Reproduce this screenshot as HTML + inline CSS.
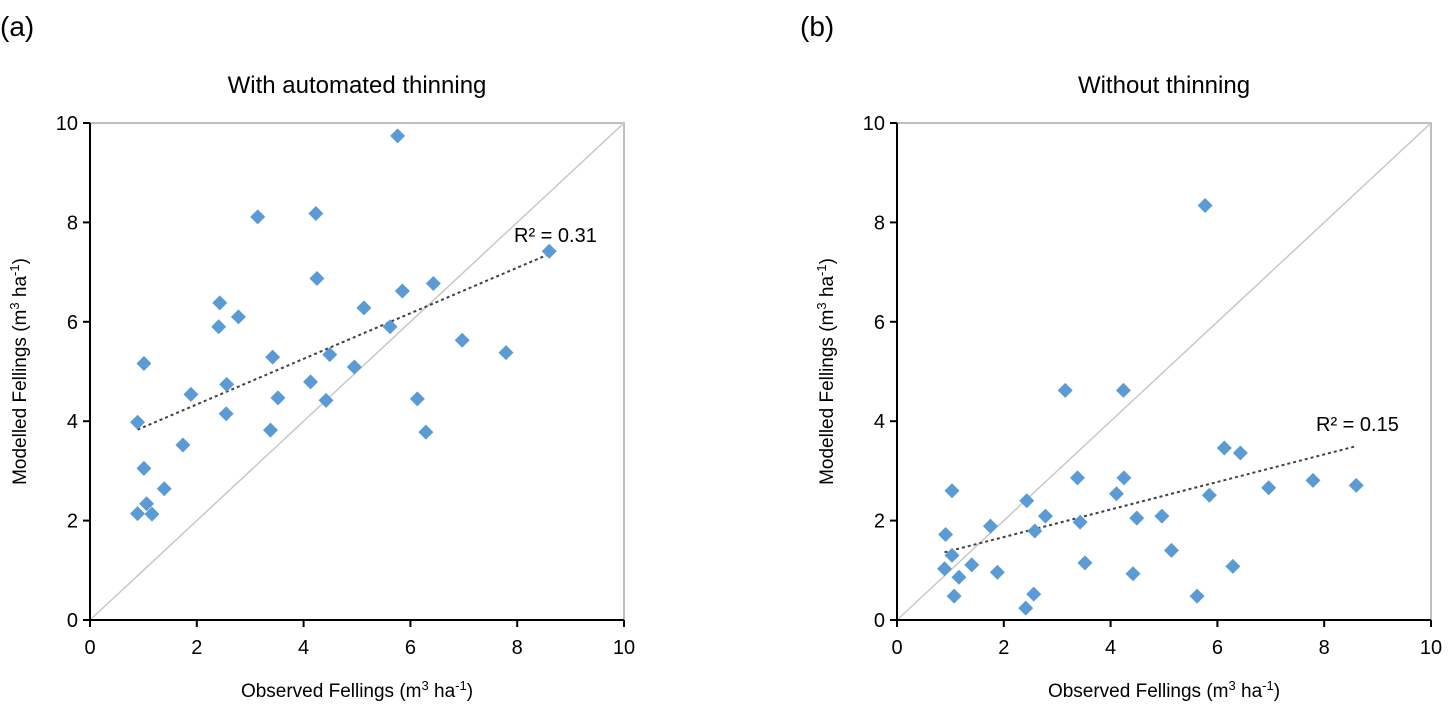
<!DOCTYPE html>
<html><head><meta charset="utf-8">
<style>
html,body{margin:0;padding:0;background:#fff;}
svg{display:block;font-family:"Liberation Sans",sans-serif;}
</style></head>
<body>
<svg id="chart" width="1448" height="706" viewBox="0 0 1448 706" xmlns="http://www.w3.org/2000/svg"></svg>
<script>
const ticks = [0,2,4,6,8,10];
const tickLabels = ["0","2","4","6","8","10"];
const obsA = [0.89,1.01,0.89,1.06,1.16,1.01,1.39,1.74,1.89,2.43,2.41,2.78,2.55,2.56,3.14,3.42,3.38,3.52,4.23,4.25,4.13,4.49,4.42,4.95,5.13,5.62,5.76,5.85,6.43,6.13,6.29,6.97,7.79,8.60];
const modA = [3.98,5.16,2.14,2.34,2.13,3.05,2.64,3.52,4.54,6.38,5.90,6.10,4.15,4.74,8.11,5.29,3.82,4.47,8.18,6.87,4.79,5.34,4.42,5.09,6.28,5.90,9.74,6.62,6.77,4.45,3.78,5.63,5.38,7.42];
const obsB = [0.91,1.03,1.03,0.89,1.07,1.16,1.40,1.75,1.88,2.43,2.41,2.56,2.58,2.78,3.15,3.38,3.43,3.52,4.24,4.25,4.11,4.49,4.42,4.96,5.14,5.62,5.77,5.85,6.13,6.43,6.29,6.96,7.79,8.60];
const modB = [1.72,2.60,1.30,1.03,0.48,0.86,1.11,1.89,0.96,2.40,0.24,0.52,1.79,2.09,4.62,2.86,1.97,1.15,4.62,2.86,2.54,2.05,0.93,2.09,1.40,0.48,8.34,2.51,3.46,3.36,1.08,2.66,2.81,2.71];
const r2Labels = ["R² = 0.31","R² = 0.15"];
const titles = ["With automated thinning","Without thinning"];
const panelLabels = ["(a)","(b)"];

const NS="http://www.w3.org/2000/svg";
const svg=document.getElementById('chart');
function mk(tag,attrs,parent){const e=document.createElementNS(NS,tag);for(const k in attrs)e.setAttribute(k,attrs[k]);(parent||svg).appendChild(e);return e;}

function panel(idx,left,xs,ys,labelX,r2pos){
  const right=left+534, top=123, bottom=620;
  const sx=v=>left+(v/10)*(right-left);
  const sy=v=>bottom-(v/10)*(bottom-top);
  const g=mk('g',{});
  
  
  let t=mk('text',{x:labelX,y:36,'font-size':28,fill:'#000'},g);t.textContent=panelLabels[idx];
  
  t=mk('text',{x:(left+right)/2,y:93,'font-size':24,'text-anchor':'middle',fill:'#000'},g);t.textContent=titles[idx];
  
  let e=mk('path',{d:`M${left} ${top}H${right}V${bottom}`,stroke:'#bfbfbf','stroke-width':2,fill:'none'},g);
  
  e=mk('line',{x1:sx(0),y1:sy(0),x2:sx(10),y2:sy(10),stroke:'#c8c8c8','stroke-width':1.5},g);
  
  e=mk('path',{d:`M${left} ${top}V${bottom}H${right}`,stroke:'#000','stroke-width':2,fill:'none'},g);
  
  ticks.forEach((v,i)=>{
    mk('line',{x1:sx(v),y1:bottom,x2:sx(v),y2:bottom+7,stroke:'#000','stroke-width':2},g);
    mk('line',{x1:left-7,y1:sy(v),x2:left,y2:sy(v),stroke:'#000','stroke-width':2},g);
    let a=mk('text',{x:sx(v),y:bottom+34,'font-size':20,'text-anchor':'middle',fill:'#000'},g);a.textContent=tickLabels[i];
    
    a=mk('text',{x:left-12,y:sy(v)+7,'font-size':20,'text-anchor':'end',fill:'#000'},g);a.textContent=tickLabels[i];
    
  });
  t=mk('text',{x:(left+right)/2,y:697,'font-size':19,'text-anchor':'middle',fill:'#000'},g);
  t.innerHTML='Observed Fellings (m<tspan font-size="13" dy="-7">3</tspan><tspan dy="7"> ha</tspan><tspan font-size="13" dy="-7">-1</tspan><tspan dy="7">)</tspan>';
  
  const yx=left-64, yy=(top+bottom)/2;
  t=mk('text',{x:yx,y:yy,'font-size':19,'text-anchor':'middle',fill:'#000',transform:`rotate(-90 ${yx} ${yy})`},g);
  t.innerHTML='Modelled Fellings (m<tspan font-size="13" dy="-7">3</tspan><tspan dy="7"> ha</tspan><tspan font-size="13" dy="-7">-1</tspan><tspan dy="7">)</tspan>';
  
  const n=xs.length;let mx=0,my=0;for(let i=0;i<n;i++){mx+=xs[i];my+=ys[i];}mx/=n;my/=n;
  let sxy=0,sxx=0;for(let i=0;i<n;i++){sxy+=(xs[i]-mx)*(ys[i]-my);sxx+=(xs[i]-mx)**2;}
  const b=sxy/sxx,a0=my-b*mx;const x0=Math.min(...xs),x1=Math.max(...xs);
  e=mk('line',{x1:sx(x0),y1:sy(a0+b*x0),x2:sx(x1),y2:sy(a0+b*x1),stroke:'#404040','stroke-width':2,'stroke-dasharray':'3,3'},g);
  
  for(let i=0;i<n;i++){
    const cx=sx(xs[i]),cy=sy(ys[i]),r=7.5;
    const p=mk('path',{d:`M${cx} ${cy-r}L${cx+r} ${cy}L${cx} ${cy+r}L${cx-r} ${cy}Z`,fill:'#5b9bd5'},g);
    
    
  }
  t=mk('text',{x:r2pos[0],y:r2pos[1],'font-size':20,fill:'#000'},g);t.textContent=r2Labels[idx];
  
}
panel(0,90,obsA,modA,0,[514,242]);
panel(1,897,obsB,modB,800,[1316,431]);
</script>
</body></html>
